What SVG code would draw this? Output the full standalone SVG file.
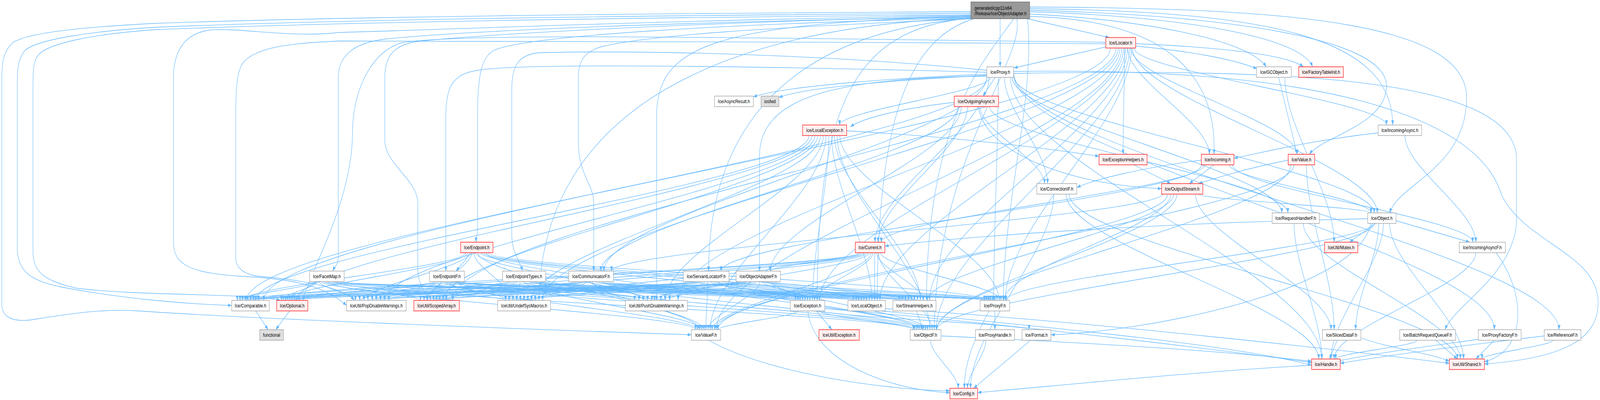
<svg xmlns="http://www.w3.org/2000/svg" width="5193" height="1024" viewBox="0 0 5193 1024" preserveAspectRatio="none">
<style>
svg{width:100vw;height:100vh}
.edges path{fill:none;stroke:#63b8ff;stroke-width:1.3;marker-end:url(#ah)}
.node rect{stroke-width:1.3}
.w rect{fill:#ffffff;stroke:#999999}
.r rect{fill:#fff0f0;stroke:#ff0000}
.x rect{fill:#e0e0e0;stroke:#999999}
.root rect{fill:#999999;stroke:#666666}
.node text{font-family:"Liberation Sans",Arial,Helvetica,sans-serif;font-size:13px;fill:#000000;text-anchor:middle}
.root text{text-anchor:start}
</style>
<defs><marker id="ah" viewBox="0 0 12 9" refX="12" refY="4.5" markerWidth="12" markerHeight="9" markerUnits="userSpaceOnUse" orient="auto"><path d="M0,0L12,4.5L0,9z" fill="#63b8ff"/></marker></defs>
<rect x="0" y="0" width="5193" height="1024" fill="#ffffff"/>
<g id="edges" class="edges">
<path d="M1022 721C1022 735 770 755 770 769"/>
<path d="M1029 721C1029 735 913 755 913 769"/>
<path d="M1036 721C1036 735 1154 755 1154 769"/>
<path d="M1043 721C1043 735 1365 755 1365 769"/>
<path d="M1050 721C1050 735 1641 755 1641 769"/>
<path d="M1057 721C1057 735 2060 755 2060 769"/>
<path d="M1065 721C1065 758 2258 807 2258 844"/>
<path d="M1072 721C1072 735 2582 755 2582 769"/>
<path d="M1079 721C1079 735 2770 755 2770 769"/>
<path d="M1086 721C1086 735 2919 755 2919 769"/>
<path d="M1093 721C1093 758 2969 807 2969 844"/>
<path d="M1100 721C1100 735 3195 755 3195 769"/>
<path d="M1411 721C1411 735 779 755 779 769"/>
<path d="M1418 721C1418 735 920 755 920 769"/>
<path d="M1425 721C1425 735 1167 755 1167 769"/>
<path d="M1432 721C1432 735 1376 755 1376 769"/>
<path d="M1440 721C1440 735 1653 755 1653 769"/>
<path d="M1447 721C1447 735 2074 755 2074 769"/>
<path d="M1454 721C1454 758 2265 807 2265 844"/>
<path d="M1461 721C1461 735 2590 755 2590 769"/>
<path d="M1468 721C1468 735 2779 755 2779 769"/>
<path d="M1476 721C1476 735 2929 755 2929 769"/>
<path d="M1483 721C1483 758 2976 807 2976 844"/>
<path d="M1490 721C1490 735 3202 755 3202 769"/>
<path d="M1511 647C1511 684 787 732 787 769"/>
<path d="M1518 647C1518 684 927 732 927 769"/>
<path d="M1524 647C1524 684 1181 732 1181 769"/>
<path d="M1531 647C1531 684 1386 732 1386 769"/>
<path d="M1538 647C1538 684 1665 732 1665 769"/>
<path d="M1544 647C1544 684 2088 732 2088 769"/>
<path d="M1551 647C1551 706 2271 785 2271 844"/>
<path d="M1558 647C1558 684 2597 732 2597 769"/>
<path d="M1564 647C1564 684 2787 732 2787 769"/>
<path d="M1571 647C1571 684 2939 732 2939 769"/>
<path d="M1578 647C1578 706 2983 785 2983 844"/>
<path d="M1584 647C1584 684 3209 732 3209 769"/>
<path d="M1652 721C1652 735 796 755 796 769"/>
<path d="M1661 721C1661 735 934 755 934 769"/>
<path d="M1670 721C1670 735 1194 755 1194 769"/>
<path d="M1679 721C1679 735 1396 755 1396 769"/>
<path d="M1688 721C1688 735 1677 755 1677 769"/>
<path d="M1697 721C1697 735 2102 755 2102 769"/>
<path d="M1705 721C1705 758 2278 807 2278 844"/>
<path d="M1714 721C1714 735 2605 755 2605 769"/>
<path d="M1723 721C1723 735 2796 755 2796 769"/>
<path d="M1732 721C1732 735 2949 755 2949 769"/>
<path d="M1741 721C1741 758 2990 807 2990 844"/>
<path d="M1750 721C1750 735 3215 755 3215 769"/>
<path d="M1868 721C1868 735 804 755 804 769"/>
<path d="M1877 721C1877 735 941 755 941 769"/>
<path d="M1886 721C1886 735 1208 755 1208 769"/>
<path d="M1895 721C1895 735 1407 755 1407 769"/>
<path d="M1905 721C1905 735 1689 755 1689 769"/>
<path d="M1914 721C1914 735 2116 755 2116 769"/>
<path d="M1923 721C1923 758 2285 807 2285 844"/>
<path d="M1932 721C1932 735 2613 755 2613 769"/>
<path d="M1942 721C1942 735 2804 755 2804 769"/>
<path d="M1951 721C1951 735 2958 755 2958 769"/>
<path d="M1960 721C1960 758 2997 807 2997 844"/>
<path d="M1969 721C1969 735 3222 755 3222 769"/>
<path d="M2240 721C2240 735 813 755 813 769"/>
<path d="M2250 721C2250 735 948 755 948 769"/>
<path d="M2259 721C2259 735 1221 755 1221 769"/>
<path d="M2268 721C2268 735 1417 755 1417 769"/>
<path d="M2278 721C2278 735 1701 755 1701 769"/>
<path d="M2287 721C2287 735 2124 755 2124 769"/>
<path d="M2297 721C2297 758 2291 807 2291 844"/>
<path d="M2306 721C2306 735 2621 755 2621 769"/>
<path d="M2316 721C2316 735 2813 755 2813 769"/>
<path d="M2325 721C2325 735 2968 755 2968 769"/>
<path d="M2334 721C2334 758 3004 807 3004 844"/>
<path d="M2344 721C2344 735 3229 755 3229 769"/>
<path d="M2411 721C2411 735 822 755 822 769"/>
<path d="M2420 721C2420 735 956 755 956 769"/>
<path d="M2429 721C2429 735 1235 755 1235 769"/>
<path d="M2438 721C2438 735 1427 755 1427 769"/>
<path d="M2447 721C2447 735 1713 755 1713 769"/>
<path d="M2456 721C2456 735 2145 755 2145 769"/>
<path d="M2466 721C2466 758 2298 807 2298 844"/>
<path d="M2475 721C2475 735 2629 755 2629 769"/>
<path d="M2484 721C2484 735 2822 755 2822 769"/>
<path d="M2493 721C2493 735 2978 755 2978 769"/>
<path d="M2502 721C2502 758 3011 807 3011 844"/>
<path d="M2511 721C2511 735 3236 755 3236 769"/>
<path d="M2626 347C2626 474 830 642 830 769"/>
<path d="M2636 347C2636 474 963 642 963 769"/>
<path d="M2645 347C2645 474 1248 642 1248 769"/>
<path d="M2654 347C2654 474 1438 642 1438 769"/>
<path d="M2663 347C2663 474 1725 642 1725 769"/>
<path d="M2672 347C2672 474 2159 642 2159 769"/>
<path d="M2681 347C2681 496 2305 695 2305 844"/>
<path d="M2690 347C2690 474 2637 642 2637 769"/>
<path d="M2699 347C2699 474 2830 642 2830 769"/>
<path d="M2708 347C2708 474 2987 642 2987 769"/>
<path d="M2717 347C2717 496 3018 695 3018 844"/>
<path d="M2726 347C2726 474 3243 642 3243 769"/>
<path d="M2790 647C2790 684 839 732 839 769"/>
<path d="M2796 647C2796 684 970 732 970 769"/>
<path d="M2803 647C2803 684 1262 732 1262 769"/>
<path d="M2809 647C2809 684 1448 732 1448 769"/>
<path d="M2815 647C2815 684 1737 732 1737 769"/>
<path d="M2821 647C2821 684 2173 732 2173 769"/>
<path d="M2827 647C2827 706 2311 785 2311 844"/>
<path d="M2833 647C2833 684 2644 732 2644 769"/>
<path d="M2839 647L2839 769"/>
<path d="M2845 647C2845 684 2997 732 2997 769"/>
<path d="M2851 647C2851 706 3025 785 3025 844"/>
<path d="M2858 647C2858 684 3249 732 3249 769"/>
<path d="M3151 46C2300 70 1760 300 1749 769"/>
<path d="M3151 47C2750 70 2655 300 2652 769"/>
<path d="M3160 48C2950 100 2850 300 2847 769"/>
<path d="M3290 48C3200 150 3010 300 3007 769"/>
<path d="M3300 48C3330 150 3040 400 3032 844"/>
<path d="M3335 48C3360 250 3260 500 3256 769"/>
<path d="M3604 123C3604 317 856 575 856 769"/>
<path d="M3622 123C3622 317 1469 575 1469 769"/>
<path d="M3629 123C3629 317 1761 575 1761 769"/>
<path d="M3635 123C3635 317 2201 575 2201 769"/>
<path d="M3641 123C3641 339 2325 628 2325 844"/>
<path d="M3647 123C3647 317 2660 575 2660 769"/>
<path d="M3653 123C3653 317 2856 575 2856 769"/>
<path d="M3659 123C3659 317 3017 575 3017 769"/>
<path d="M3666 123C3666 339 3039 628 3039 844"/>
<path d="M3672 123C3672 317 3263 575 3263 769"/>
<path d="M3151 30C2000 35 1100 43 500 60C250 70 84 85 40 110C15 130 6 150 6 200L6 780C6 820 60 825 116 817C250 800 350 790 450 796C800 815 1600 840 2244 857"/>
<path d="M3151 34C2000 40 1100 50 500 70C300 80 120 100 80 130C60 150 56 170 56 220L56 634C56 700 110 720 200 735C400 765 600 778 752 782"/>
<path d="M3151 38C2000 45 1100 57 500 76C300 88 160 110 125 140C110 155 107 170 107 220L107 644C107 700 150 720 250 738C450 758 800 750 910 769"/>
<path d="M3151 40C2200 50 1300 80 1100 83C950 98 780 70 680 77C610 85 563 120 563 200L563 620C563 680 620 700 800 708C950 715 1050 730 1125 782"/>
<path d="M3589 112C2800 110 1400 100 1100 105C950 110 830 120 790 160C770 180 765 220 765 300L765 660C765 690 800 705 850 708C1000 718 1120 740 1150 769"/>
<path d="M3151 44C2200 55 1500 80 1250 100C1150 110 1098 140 1098 200L1098 660C1098 675 1085 685 1080 694"/>
<path d="M3589 108C2600 100 1500 80 1300 110C1190 140 1144 250 1144 340C1144 520 1000 700 984 769"/>
<path d="M3151 42C2300 55 1500 90 1340 108C1270 120 1249 150 1249 200L1249 360C1249 420 1356 460 1356 520L1356 690C1356 730 1385 750 1389 769"/>
<path d="M3151 46C2400 60 1700 90 1600 130C1560 150 1550 200 1550 300L1550 580C1550 600 1545 610 1545 620"/>
<path d="M3151 48C2500 70 2100 90 1950 120C1890 135 1877 160 1877 200L1877 360C1877 450 1927 470 1927 520L1927 694"/>
<path d="M3151 42C2300 60 2131 120 2131 300L2131 769"/>
<path d="M3203 185C2500 170 1700 160 1550 180C1470 190 1447 220 1447 300L1447 694"/>
<path d="M3203 180C2700 140 2100 128 1750 135C1680 140 1661 170 1661 230L1661 600C1661 650 1690 670 1695 694"/>
<path d="M3203 195C2700 200 2465 250 2465 400L2465 694"/>
<path d="M3151 47C2600 80 2300 300 2300 694"/>
<path d="M3335 48L3600 96"/>
<path d="M3246 48L3246 171"/>
<path d="M3342 36C3700 50 4050 100 4110 171"/>
<path d="M3342 30C3800 40 4220 90 4260 171"/>
<path d="M3342 26C4000 40 4500 100 4500 220C4500 320 4290 350 4250 395"/>
<path d="M3342 42C3800 50 3950 200 3940 395"/>
<path d="M3342 22C4100 30 4520 90 4520 320"/>
<path d="M3342 18C4200 20 4760 60 4760 250C4760 430 4540 470 4510 545"/>
<path d="M3589 120L3291 174"/>
<path d="M3686 118C3850 130 4000 150 4080 176"/>
<path d="M3686 112C3950 120 4180 140 4230 171"/>
<path d="M3650 123C3650 205 3645 313 3645 395"/>
<path d="M3660 123C3660 205 3925 313 3925 395"/>
<path d="M3680 123C3680 182 4500 261 4500 320"/>
<path d="M3675 123C3675 250 4470 418 4470 545"/>
<path d="M3670 123C3670 205 4210 313 4210 395"/>
<path d="M3203 190C2900 200 2550 220 2445 248"/>
<path d="M3203 193C2900 205 2600 225 2528 250"/>
<path d="M3230 198L3190 246"/>
<path d="M3215 198C3215 235 2725 283 2725 320"/>
<path d="M3260 198C3260 280 3400 388 3400 470"/>
<path d="M3285 198C3285 302 4160 441 4160 545"/>
<path d="M3290 195C3290 302 4460 441 4460 545"/>
<path d="M3210 198C3210 325 2840 493 2840 620"/>
<path d="M3203 198C3203 347 1960 545 1960 694"/>
<path d="M3203 198C3203 369 800 598 800 769"/>
<path d="M3240 198C3240 369 3225 598 3225 769"/>
<path d="M3290 190C3290 392 4850 650 4850 844"/>
<path d="M3290 185C3290 392 5060 650 5060 844"/>
<path d="M3290 188C4200 175 4900 200 4922 400L4922 560C4922 700 4720 780 4690 844"/>
<path d="M3290 183C4300 170 4800 300 4874 500C4950 620 5180 650 5187 769C5190 860 5100 915 4818 932"/>
<path d="M3280 198C3280 414 4290 703 4290 919"/>
<path d="M3097 262C2950 275 2800 300 2760 325"/>
<path d="M3180 273C3180 332 3390 411 3390 470"/>
<path d="M3175 273C3200 400 3500 475 3770 483"/>
<path d="M3140 273C3140 377 2850 516 2850 620"/>
<path d="M3212 273C3212 355 4180 463 4180 545"/>
<path d="M3120 273C3120 399 2500 568 2500 694"/>
<path d="M3110 273C3110 399 1950 568 1950 694"/>
<path d="M2748 335C3100 350 3400 380 3567 400"/>
<path d="M4473 340C4250 360 4100 390 4005 405"/>
<path d="M4560 347C4560 429 4790 538 4790 620"/>
<path d="M3680 422L3800 470"/>
<path d="M3940 422L3860 470"/>
<path d="M3899 410C3700 430 3550 460 3495 480"/>
<path d="M3910 422C3910 481 2860 561 2860 620"/>
<path d="M3990 422C3990 459 4450 508 4450 545"/>
<path d="M4000 422C4000 481 4780 561 4780 620"/>
<path d="M3900 422C3900 504 2340 612 2340 694"/>
<path d="M4200 422C4200 549 2330 717 2330 844"/>
<path d="M4240 422C4240 549 4330 717 4330 844"/>
<path d="M4190 422C4190 549 3040 717 3040 844"/>
<path d="M4181 410C4050 430 3950 455 3890 470"/>
<path d="M4150 198L4210 395"/>
<path d="M4170 198C4170 325 4330 493 4330 620"/>
<path d="M3470 497C3470 624 4730 792 4730 919"/>
<path d="M3460 497C3460 624 4280 792 4280 919"/>
<path d="M3420 497C3420 646 3150 845 3150 994"/>
<path d="M3890 497C3890 511 4450 531 4450 545"/>
<path d="M3790 497C3790 601 2320 740 2320 844"/>
<path d="M3800 497C3800 579 3258 687 3258 769"/>
<path d="M3880 497C3880 601 4320 740 4320 844"/>
<path d="M3810 497C3810 579 3010 687 3010 769"/>
<path d="M3775 495C3775 556 1985 635 1985 694"/>
<path d="M3820 497C3820 601 3040 740 3040 844"/>
<path d="M4230 572C4230 676 4740 815 4740 919"/>
<path d="M4200 572C4200 676 4290 815 4290 919"/>
<path d="M4439 560C3800 570 3200 600 2872 630"/>
<path d="M4465 572L4380 620"/>
<path d="M4475 572C4475 654 4400 762 4400 844"/>
<path d="M4510 572C4510 676 4750 815 4750 919"/>
<path d="M4531 565L4770 620"/>
<path d="M4460 572C4460 654 3040 762 3040 844"/>
<path d="M4455 572C4455 631 3265 710 3265 769"/>
<path d="M4450 572C4400 750 3700 850 3411 857"/>
<path d="M4490 572C4490 676 4320 815 4320 919"/>
<path d="M2790 647C2790 661 2500 680 2500 694"/>
<path d="M1530 647L1480 694"/>
<path d="M4790 647C4790 729 4330 837 4330 919"/>
<path d="M4856 647C4960 760 4950 900 4818 926"/>
<path d="M830 796L870 844"/>
<path d="M940 796L895 844"/>
<path d="M2650 796L2700 844"/>
<path d="M2670 796C2670 810 3340 830 3340 844"/>
<path d="M2677 790C3300 830 4000 900 4257 928"/>
<path d="M2660 796C2660 810 2965 830 2965 844"/>
<path d="M2590 796C2590 810 2330 830 2330 844"/>
<path d="M2622 796C2640 930 2900 1000 3083 1005"/>
<path d="M2874 790C3500 820 4400 900 4704 930"/>
<path d="M2860 796C3300 830 4000 880 4257 935"/>
<path d="M2975 796L2995 844"/>
<path d="M3229 796L3229 844"/>
<path d="M3210 796C3160 870 3130 930 3130 994"/>
<path d="M2300 871C2500 960 2900 1000 3083 1000"/>
<path d="M3054 860C3600 880 4000 900 4257 925"/>
<path d="M3020 871C3020 908 3110 957 3110 994"/>
<path d="M3200 871C3200 908 3140 957 3140 994"/>
<path d="M3345 871L3160 994"/>
<path d="M4340 871L4315 919"/>
<path d="M4417 865C4500 890 4650 905 4704 925"/>
<path d="M4600 871C4600 885 4335 905 4335 919"/>
<path d="M4660 871L4730 919"/>
<path d="M4830 865C4700 880 4450 905 4340 925"/>
<path d="M4850 871L4790 919"/>
<path d="M5012 860C4800 880 4500 910 4350 930"/>
<path d="M5040 871C5040 885 4810 905 4810 919"/>
<path d="M4257 935C3900 950 3400 990 3173 1005"/>
</g>
<g id="n0" class="node root"><rect x="3151" y="5" width="191" height="43"/><text x="3163" y="25">generated/cpp11/x64</text><text x="3163" y="39">/Release/Ice/ObjectAdapter.h</text></g>
<g id="n1" class="node r"><rect x="3589" y="96" width="97" height="27"/><text x="3637.5" y="114">Ice/Locator.h</text></g>
<g id="n2" class="node w"><rect x="3203" y="171" width="87" height="27"/><text x="3246.5" y="189">Ice/Proxy.h</text></g>
<g id="n3" class="node w"><rect x="4078" y="171" width="113" height="27"/><text x="4134.5" y="189">Ice/GCObject.h</text></g>
<g id="n4" class="node r"><rect x="4215" y="171" width="145" height="27"/><text x="4287.5" y="189">Ice/FactoryTableInit.h</text></g>
<g id="n5" class="node w"><rect x="2319" y="246" width="126" height="27"/><text x="2382" y="264">Ice/AsyncResult.h</text></g>
<g id="n6" class="node x"><rect x="2470" y="246" width="58" height="27"/><text x="2499" y="264">iosfwd</text></g>
<g id="n7" class="node r"><rect x="3097" y="246" width="144" height="27"/><text x="3169" y="264">Ice/OutgoingAsync.h</text></g>
<g id="n8" class="node r"><rect x="2605" y="320" width="143" height="27"/><text x="2676.5" y="338">Ice/LocalException.h</text></g>
<g id="n9" class="node w"><rect x="4473" y="320" width="141" height="27"/><text x="4543.5" y="338">Ice/IncomingAsync.h</text></g>
<g id="n10" class="node r"><rect x="3567" y="395" width="156" height="27"/><text x="3645" y="413">Ice/ExceptionHelpers.h</text></g>
<g id="n11" class="node r"><rect x="3899" y="395" width="106" height="27"/><text x="3952" y="413">Ice/Incoming.h</text></g>
<g id="n12" class="node r"><rect x="4181" y="395" width="86" height="27"/><text x="4224" y="413">Ice/Value.h</text></g>
<g id="n13" class="node w"><rect x="3365" y="470" width="130" height="27"/><text x="3430" y="488">Ice/ConnectionIF.h</text></g>
<g id="n14" class="node r"><rect x="3770" y="470" width="134" height="27"/><text x="3837" y="488">Ice/OutputStream.h</text></g>
<g id="n15" class="node w"><rect x="4129" y="545" width="153" height="27"/><text x="4205.5" y="563">Ice/RequestHandlerF.h</text></g>
<g id="n16" class="node w"><rect x="4439" y="545" width="92" height="27"/><text x="4485" y="563">Ice/Object.h</text></g>
<g id="n17" class="node r"><rect x="1495" y="620" width="105" height="27"/><text x="1547.5" y="638">Ice/Endpoint.h</text></g>
<g id="n18" class="node r"><rect x="2776" y="620" width="96" height="27"/><text x="2824" y="638">Ice/Current.h</text></g>
<g id="n19" class="node r"><rect x="4299" y="620" width="108" height="27"/><text x="4353" y="638">IceUtil/Mutex.h</text></g>
<g id="n20" class="node w"><rect x="4736" y="620" width="150" height="27"/><text x="4811" y="638">Ice/IncomingAsyncF.h</text></g>
<g id="n21" class="node w"><rect x="1005" y="694" width="112" height="27"/><text x="1061" y="712">Ice/FacetMap.h</text></g>
<g id="n22" class="node w"><rect x="1394" y="694" width="113" height="27"/><text x="1450.5" y="712">Ice/EndpointF.h</text></g>
<g id="n23" class="node w"><rect x="1631" y="694" width="140" height="27"/><text x="1701" y="712">Ice/EndpointTypes.h</text></g>
<g id="n24" class="node w"><rect x="1846" y="694" width="145" height="27"/><text x="1918.5" y="712">Ice/CommunicatorF.h</text></g>
<g id="n25" class="node w"><rect x="2218" y="694" width="148" height="27"/><text x="2292" y="712">Ice/ServantLocatorF.h</text></g>
<g id="n26" class="node w"><rect x="2389" y="694" width="144" height="27"/><text x="2461" y="712">Ice/ObjectAdapterF.h</text></g>
<g id="n27" class="node w"><rect x="752" y="769" width="122" height="27"/><text x="813" y="787">Ice/Comparable.h</text></g>
<g id="n28" class="node r"><rect x="898" y="769" width="101" height="27"/><text x="948.5" y="787">Ice/Optional.h</text></g>
<g id="n29" class="node w"><rect x="1125" y="769" width="193" height="27"/><text x="1221.5" y="787">IceUtil/PopDisableWarnings.h</text></g>
<g id="n30" class="node r"><rect x="1343" y="769" width="148" height="27"/><text x="1417" y="787">IceUtil/ScopedArray.h</text></g>
<g id="n31" class="node w"><rect x="1615" y="769" width="172" height="27"/><text x="1701" y="787">IceUtil/UndefSysMacros.h</text></g>
<g id="n32" class="node w"><rect x="2030" y="769" width="201" height="27"/><text x="2130.5" y="787">IceUtil/PushDisableWarnings.h</text></g>
<g id="n33" class="node w"><rect x="2565" y="769" width="112" height="27"/><text x="2621" y="787">Ice/Exception.h</text></g>
<g id="n34" class="node w"><rect x="2752" y="769" width="122" height="27"/><text x="2813" y="787">Ice/LocalObject.h</text></g>
<g id="n35" class="node w"><rect x="2898" y="769" width="140" height="27"/><text x="2968" y="787">Ice/StreamHelpers.h</text></g>
<g id="n36" class="node w"><rect x="3181" y="769" width="96" height="27"/><text x="3229" y="787">Ice/ProxyF.h</text></g>
<g id="n37" class="node x"><rect x="843" y="844" width="77" height="27"/><text x="881.5" y="862">functional</text></g>
<g id="n38" class="node w"><rect x="2244" y="844" width="95" height="27"/><text x="2291.5" y="862">Ice/ValueF.h</text></g>
<g id="n39" class="node r"><rect x="2658" y="844" width="131" height="27"/><text x="2723.5" y="862">IceUtil/Exception.h</text></g>
<g id="n40" class="node w"><rect x="2954" y="844" width="100" height="27"/><text x="3004" y="862">Ice/ObjectF.h</text></g>
<g id="n41" class="node w"><rect x="3166" y="844" width="127" height="27"/><text x="3229.5" y="862">Ice/ProxyHandle.h</text></g>
<g id="n42" class="node w"><rect x="3317" y="844" width="94" height="27"/><text x="3364" y="862">Ice/Format.h</text></g>
<g id="n43" class="node w"><rect x="4292" y="844" width="125" height="27"/><text x="4354.5" y="862">Ice/SlicedDataF.h</text></g>
<g id="n44" class="node w"><rect x="4543" y="844" width="181" height="27"/><text x="4633.5" y="862">Ice/BatchRequestQueueF.h</text></g>
<g id="n45" class="node w"><rect x="4798" y="844" width="139" height="27"/><text x="4867.5" y="862">Ice/ProxyFactoryF.h</text></g>
<g id="n46" class="node w"><rect x="5012" y="844" width="119" height="27"/><text x="5071.5" y="862">Ice/ReferenceF.h</text></g>
<g id="n47" class="node r"><rect x="4257" y="919" width="93" height="27"/><text x="4303.5" y="937">Ice/Handle.h</text></g>
<g id="n48" class="node r"><rect x="4704" y="919" width="114" height="27"/><text x="4761" y="937">IceUtil/Shared.h</text></g>
<g id="n49" class="node r"><rect x="3083" y="994" width="90" height="27"/><text x="3128" y="1012">Ice/Config.h</text></g>
</svg>
